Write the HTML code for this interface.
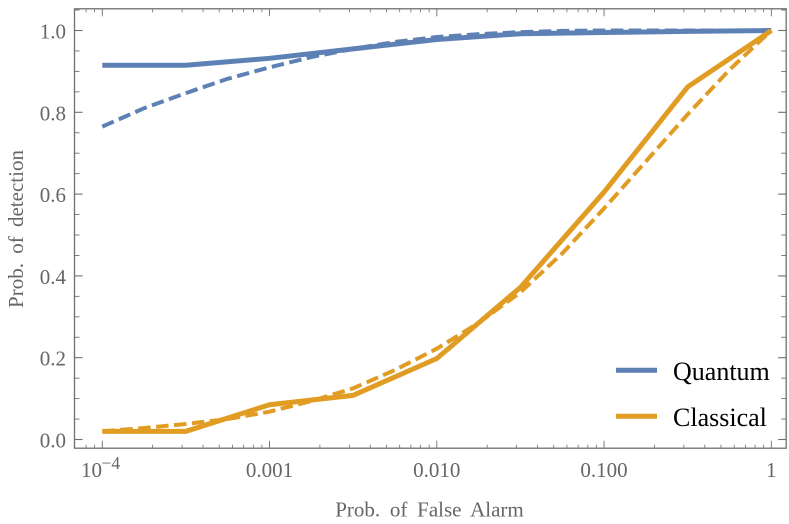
<!DOCTYPE html>
<html>
<head>
<meta charset="utf-8">
<style>
html,body{margin:0;padding:0;background:#fff;}
svg{display:block;}
text{font-family:"Liberation Serif",serif;}
</style>
</head>
<body>
<svg id="chart" width="789" height="524" viewBox="0 0 789 524" xmlns="http://www.w3.org/2000/svg">
<rect x="0" y="0" width="789" height="524" fill="#fff"/>
<g id="ticks"></g>
<g id="series"></g>
<rect x="74.5" y="8.8" width="711.7" height="439.4" fill="none" stroke="#6e6e6e" stroke-width="1.3"/>
<g id="labels"></g>
<text x="429.5" y="516.5" text-anchor="middle" font-size="21" word-spacing="4.5" fill="#666">Prob. of False Alarm</text>
<text transform="translate(23,229) rotate(-90)" text-anchor="middle" font-size="21" word-spacing="4" fill="#666">Prob. of detection</text>
<g>
<line x1="616" x2="657" y1="370.3" y2="370.3" stroke="#5E81B5" stroke-width="5"/>
<text x="673" y="380" font-size="26" fill="#000">Quantum</text>
<line x1="616" x2="657" y1="416.3" y2="416.3" stroke="#E19C24" stroke-width="5"/>
<text x="673" y="426" font-size="26" fill="#000">Classical</text>
</g>
</svg>
<script>
// Chart data (x values are base-10 exponents of probability of false alarm)
const solidExponents = [-4,-3.5,-3,-2.5,-2,-1.5,-1,-0.5,0];
const quantumSolid = [0.915,0.915,0.932,0.955,0.978,0.992,0.995,0.998,1.0];
const classicalSolid = [0.02,0.02,0.085,0.108,0.198,0.372,0.605,0.862,1.0];
const dashedExponents = [-4,-3.75,-3.5,-3.25,-3,-2.75,-2.5,-2.25,-2,-1.75,-1.5,-1.25,-1,-0.75,-0.5,-0.25,0];
const quantumDashed = [0.765,0.81,0.847,0.882,0.91,0.935,0.955,0.972,0.984,0.991,0.996,0.999,1.0,1.0,1.0,1.0,1.0];
const classicalDashed = [0.02,0.028,0.038,0.05,0.068,0.094,0.125,0.17,0.222,0.285,0.36,0.455,0.565,0.68,0.795,0.904,1.0];
const yMajorTicks = [0,0.2,0.4,0.6,0.8,1.0];
const yMinorTicks = [0.05,0.1,0.15,0.25,0.3,0.35,0.45,0.5,0.55,0.65,0.7,0.75,0.85,0.9,0.95,1.05];
const xMajorExponents = [-4,-3,-2,-1,0];
const xMajorLabels = ["10","0.001","0.010","0.100","1"];
const xMinorMultipliers = [2,3,4,5,6,7,8,9];
const xMinorBelowRange = [0.00008,0.00009];

const NS = "http://www.w3.org/2000/svg";
function xScale(e){ return 771.3 + e * 167.25; }
function yScale(v){ return 439.5 - v * 409; }
function make(tag, attrs, parent){
  const el = document.createElementNS(NS, tag);
  for (const k in attrs) el.setAttribute(k, attrs[k]);
  parent.appendChild(el);
  return el;
}
const tickGroup = document.getElementById("ticks");
const seriesGroup = document.getElementById("series");
const labelGroup = document.getElementById("labels");
const tickColor = "#6e6e6e";

function addTick(x1,y1,x2,y2,w,name){
  const t = make("line",{x1:x1,y1:y1,x2:x2,y2:y2,stroke:tickColor,"stroke-width":w},tickGroup);
  
  
}
function yTicks(v,len,w,name){
  const y = yScale(v);
  addTick(74.5,y,74.5+len,y,w,name+"-left");
  addTick(786.2,y,786.2-len,y,w,name+"-right");
}
function xTicks(e,len,w,name){
  const x = xScale(e);
  addTick(x,448.2,x,448.2-len,w,name+"-bottom");
  addTick(x,8.8,x,8.8+len,w,name+"-top");
}
yMajorTicks.forEach(v=>yTicks(v,8,1.1,"y-major-tick"));
yMinorTicks.forEach(v=>yTicks(v,5,0.9,"y-minor-tick"));
xMajorExponents.forEach(e=>xTicks(e,7.5,0.9,"x-major-tick"));
xMajorExponents.slice(0,-1).forEach(e=>{
  xMinorMultipliers.forEach(m=>xTicks(e+Math.log10(m),3.5,0.8,"x-minor-tick"));
});
xMinorBelowRange.forEach(p=>xTicks(Math.log10(p),3.5,0.8,"x-minor-tick"));

yMajorTicks.forEach(v=>{
  const t = make("text",{x:66,y:yScale(v)+8,"text-anchor":"end","font-size":21,fill:"#666"},labelGroup);
  
  
  t.textContent = v.toFixed(1);
});
xMajorExponents.forEach((e,i)=>{
  const x = xScale(e);
  if (i === 0) {
    const t = make("text",{x:81,y:477,"font-size":21,fill:"#666"},labelGroup);
    
    
    t.textContent = xMajorLabels[i];
    const s = make("text",{x:101.5,y:469,"font-size":17.5,fill:"#666"},labelGroup);
    
    
    s.textContent = "\u22124";
  } else {
    const t = make("text",{x:x,y:477,"text-anchor":"middle","font-size":21,fill:"#666"},labelGroup);
    
    
    t.textContent = xMajorLabels[i];
  }
});

function pathFor(xs, ys){
  return xs.map((e,i)=>(i?"L":"M")+xScale(e).toFixed(2)+" "+yScale(ys[i]).toFixed(2)).join(" ");
}
const dashedQuantumLine = make("path",{d:pathFor(dashedExponents,quantumDashed),fill:"none",stroke:"#5E81B5","stroke-width":4,"stroke-dasharray":"12.5 5.5"},seriesGroup);


const solidQuantumLine = make("path",{d:pathFor(solidExponents,quantumSolid),fill:"none",stroke:"#5E81B5","stroke-width":5,"stroke-linejoin":"round"},seriesGroup);


const dashedClassicalLine = make("path",{d:pathFor(dashedExponents,classicalDashed),fill:"none",stroke:"#E19C24","stroke-width":4,"stroke-dasharray":"12.5 5.5"},seriesGroup);


const solidClassicalLine = make("path",{d:pathFor(solidExponents,classicalSolid),fill:"none",stroke:"#E19C24","stroke-width":5,"stroke-linejoin":"round"},seriesGroup);


</script>
</body>
</html>
